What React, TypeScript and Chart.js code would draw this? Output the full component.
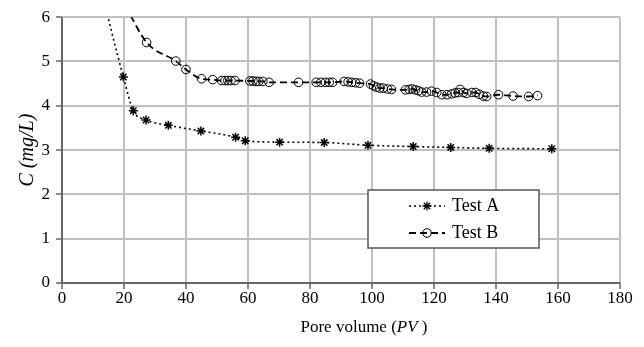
import React, { useEffect, useRef } from "react";
import { Chart, registerables } from "chart.js";

Chart.register(...registerables);

// Test A (asterisks, dotted line) — first point is off-chart (curve continuation, no marker)
const testAX = [13.0, 19.8, 23.0, 27.1, 34.3, 44.8, 56.0, 59.1, 70.2, 84.6, 98.7, 113.3, 125.4, 137.8, 158.0];
const testAY = [6.5, 4.65, 3.89, 3.68, 3.56, 3.43, 3.29, 3.21, 3.18, 3.17, 3.11, 3.08, 3.06, 3.04, 3.03];

// Test B (open circles, dashed line) — first point is off-chart (curve continuation, no marker)
const testBX = [20.5, 27.3, 36.7, 40.0, 45.0, 48.6, 51.5, 52.6, 53.5, 54.5, 55.8, 60.6, 61.6, 62.6, 63.5, 64.8, 66.8, 76.3, 82.0, 83.5, 85.0, 86.2, 87.3, 91.0, 92.3, 93.5, 94.7, 96.0, 99.5, 100.5, 101.5, 102.5, 103.6, 105.0, 106.3, 110.8, 112.0, 113.0, 114.0, 115.0, 116.0, 117.6, 119.2, 120.9, 122.5, 124.2, 125.7, 126.8, 127.8, 128.4, 129.5, 130.5, 132.2, 133.5, 134.6, 135.9, 137.0, 140.8, 145.5, 150.5, 153.4];
const testBY = [6.25, 5.43, 5.01, 4.82, 4.61, 4.59, 4.57, 4.57, 4.57, 4.57, 4.57, 4.56, 4.56, 4.55, 4.55, 4.55, 4.53, 4.53, 4.53, 4.53, 4.53, 4.53, 4.53, 4.55, 4.54, 4.53, 4.52, 4.51, 4.49, 4.45, 4.42, 4.40, 4.40, 4.38, 4.37, 4.36, 4.37, 4.38, 4.36, 4.34, 4.31, 4.31, 4.33, 4.30, 4.25, 4.25, 4.27, 4.29, 4.30, 4.37, 4.30, 4.28, 4.30, 4.30, 4.26, 4.22, 4.21, 4.25, 4.22, 4.21, 4.23];

const seriesNames = ["Test A", "Test B"];
const xTicks = { min: 0, max: 180, step: 20 };
const yTicks = { min: 0, max: 6, step: 1 };
const yTitle = "C (mg/L)";
const xTitleParts = [
  { text: "Pore volume (", italic: false },
  { text: "PV", italic: true },
  { text: " )", italic: false },
];

const FONT = "'Liberation Serif', 'Times New Roman', serif";
const FS = 17;

export default function App() {
  const ref = useRef<HTMLCanvasElement | null>(null);

  useEffect(() => {
    document.body.style.margin = "0";
    const canvas = ref.current;
    if (!canvas) return;

    const toPts = (xs: number[], ys: number[]) => xs.map((x, i) => ({ x, y: ys[i] }));
    const radiiA = testAX.map((_, i) => (i === 0 ? 0 : 4.5));
    const radiiB = testBX.map((_, i) => (i === 0 ? 0 : 4.3));

    // gridlines + tick marks drawn from the chart's own scales
    const gridPlugin = {
      id: "manualGrid",
      beforeDatasetsDraw(chart: any) {
        const ctx = chart.ctx as CanvasRenderingContext2D;
        const a = chart.chartArea;
        const xs = chart.scales.x;
        const ys = chart.scales.y;
        const line = (x1: number, y1: number, x2: number, y2: number) => {
          ctx.beginPath();
          ctx.moveTo(x1, y1);
          ctx.lineTo(x2, y2);
          ctx.stroke();
        };
        ctx.save();
        ctx.strokeStyle = "#c0c0c0";
        ctx.lineWidth = 2;
        xs.ticks.forEach((t: any) => {
          const px = Math.round(xs.getPixelForValue(t.value));
          if (px <= a.left + 1) return;
          line(px, a.top, px, a.bottom);
        });
        ys.ticks.forEach((t: any) => {
          const py = Math.round(ys.getPixelForValue(t.value));
          if (py >= a.bottom - 1) return;
          line(a.left, py, a.right, py);
        });
        ctx.strokeStyle = "#666";
        ctx.lineWidth = 1.5;
        xs.ticks.forEach((t: any) => {
          const px = Math.round(xs.getPixelForValue(t.value));
          line(px, a.bottom, px, a.bottom + 6);
        });
        ys.ticks.forEach((t: any) => {
          const py = Math.round(ys.getPixelForValue(t.value));
          line(a.left - 6, py, a.left, py);
        });
        // axis lines on top of gridlines
        ctx.lineWidth = 2;
        line(a.left, a.top, a.left, a.bottom + 1);
        line(a.left - 1, a.bottom, a.right, a.bottom);
        ctx.restore();
      },
    };

    const overlay = {
      id: "overlay",
      afterDraw(chart: any) {
        const ctx = chart.ctx as CanvasRenderingContext2D;
        ctx.save();
        // x-axis title with mixed styles
        ctx.fillStyle = "#000";
        ctx.textBaseline = "middle";
        const fonts = xTitleParts.map((p) => `${p.italic ? "italic " : ""}${FS}px ${FONT}`);
        let total = 0;
        const widths = xTitleParts.map((p, i) => {
          ctx.font = fonts[i];
          const w = ctx.measureText(p.text).width;
          total += w;
          return w;
        });
        let x = 364 - total / 2;
        const ty = 328;
        xTitleParts.forEach((p, i) => {
          ctx.font = fonts[i];
          ctx.textAlign = "left";
          ctx.fillText(p.text, x, ty);
          x += widths[i];
        });

        // legend box
        const bx = 368, by = 190, bw = 171, bh = 58;
        ctx.fillStyle = "#fff";
        ctx.fillRect(bx, by, bw, bh);
        ctx.strokeStyle = "#555";
        ctx.lineWidth = 1.5;
        ctx.strokeRect(bx, by, bw, bh);

        const rows = [
          { y: by + 16, ds: chart.data.datasets[0] },
          { y: by + 43, ds: chart.data.datasets[1] },
        ];
        rows.forEach((r, i) => {
          ctx.strokeStyle = "#000";
          ctx.lineWidth = r.ds.borderWidth;
          ctx.setLineDash(r.ds.borderDash);
          ctx.beginPath();
          ctx.moveTo(409, r.y);
          ctx.lineTo(445, r.y);
          ctx.stroke();
          ctx.setLineDash([]);
          ctx.lineWidth = 1.3;
          if (i === 0) {
            const s = 4.5;
            ctx.beginPath();
            ctx.moveTo(427 - s, r.y); ctx.lineTo(427 + s, r.y);
            ctx.moveTo(427, r.y - s); ctx.lineTo(427, r.y + s);
            const d = s * 0.707;
            ctx.moveTo(427 - d, r.y - d); ctx.lineTo(427 + d, r.y + d);
            ctx.moveTo(427 - d, r.y + d); ctx.lineTo(427 + d, r.y - d);
            ctx.stroke();
          } else {
            ctx.lineWidth = 1;
            ctx.beginPath();
            ctx.arc(427, r.y, 4.3, 0, Math.PI * 2);
            ctx.stroke();
          }
          ctx.fillStyle = "#000";
          ctx.font = `18px ${FONT}`;
          ctx.textAlign = "left";
          ctx.textBaseline = "middle";
          ctx.fillText(seriesNames[i], 452, r.y);
        });
        ctx.restore();
      },
    };

    const chart = new Chart(canvas, {
      type: "scatter",
      data: {
        datasets: [
          {
            label: seriesNames[0],
            data: toPts(testAX, testAY),
            showLine: true,
            borderColor: "#000",
            backgroundColor: "rgba(0,0,0,0)",
            borderWidth: 1.6,
            borderDash: [2, 3],
            cubicInterpolationMode: "monotone",
            pointStyle: "star",
            pointRadius: radiiA,
            pointBorderColor: "#000",
            pointBorderWidth: 1.5,
          },
          {
            label: seriesNames[1],
            data: toPts(testBX, testBY),
            showLine: true,
            borderColor: "#000",
            backgroundColor: "rgba(0,0,0,0)",
            borderWidth: 1.8,
            borderDash: [7, 4],
            cubicInterpolationMode: "monotone",
            pointStyle: "circle",
            pointRadius: radiiB,
            pointBorderColor: "#000",
            pointBackgroundColor: "rgba(0,0,0,0)",
            pointBorderWidth: 1,
          },
        ],
      },
      options: {
        responsive: false,
        animation: false,
        layout: { padding: { top: 16, right: 24, left: 0, bottom: 0 } },
        plugins: {
          legend: { display: false },
          tooltip: { enabled: false },
        },
        scales: {
          x: {
            type: "linear",
            min: xTicks.min,
            max: xTicks.max,
            afterFit: (s: any) => { s.height = 64; },
            ticks: {
              stepSize: xTicks.step,
              color: "#000",
              padding: 0,
              font: { family: FONT, size: FS },
              maxRotation: 0,
            },
            grid: { display: false, drawTicks: true, tickLength: 5 },
            border: { display: false },
          },
          y: {
            type: "linear",
            min: yTicks.min,
            max: yTicks.max,
            afterFit: (s: any) => { s.width = 62; },
            ticks: {
              stepSize: yTicks.step,
              color: "#000",
              padding: 7,
              font: { family: FONT, size: FS },
            },
            grid: { display: false, drawTicks: true, tickLength: 5 },
            border: { display: false },
            title: {
              display: true,
              text: yTitle,
              color: "#000",
              font: { family: FONT, size: 20, style: "italic" },
              padding: { top: 16, bottom: 0 },
            },
          },
        },
      },
      plugins: [gridPlugin, overlay],
    } as any);

    return () => chart.destroy();
  }, []);

  return (
    <div style={{ width: 644, height: 347 }}>
      <canvas ref={ref} width={644} height={347} style={{ display: "block" }} />
    </div>
  );
}
